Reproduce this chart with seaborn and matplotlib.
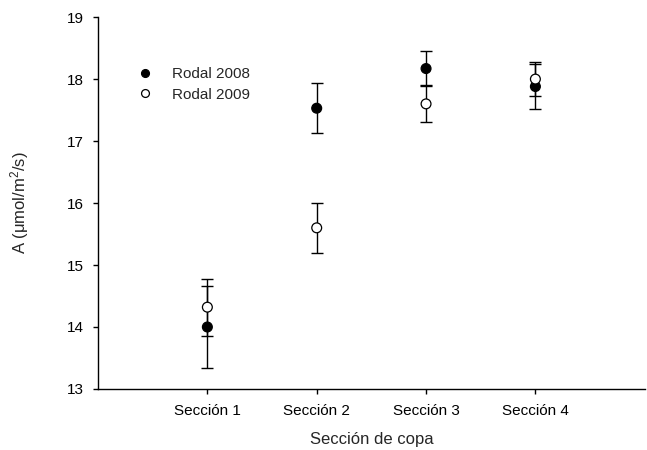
import pandas as pd
import matplotlib.pyplot as plt
import seaborn as sns

# Values
secciones = ["Sección 1", "Sección 2", "Sección 3", "Sección 4"]
a_2008 = [14.00, 17.53, 18.17, 17.88]
err_2008 = [0.66, 0.40, 0.28, 0.36]
a_2009 = [14.32, 15.60, 17.60, 18.00]
err_2009 = [0.46, 0.40, 0.30, 0.27]

df = pd.DataFrame({
    "seccion": secciones * 2,
    "A": a_2008 + a_2009,
    "err": err_2008 + err_2009,
    "rodal": ["Rodal 2008"] * 4 + ["Rodal 2009"] * 4,
})

sns.set_style("ticks")
plt.rcParams["font.family"] = ["Liberation Sans", "DejaVu Sans"]
plt.rcParams["mathtext.fontset"] = "custom"
plt.rcParams["mathtext.rm"] = "Liberation Sans"
plt.rcParams["mathtext.default"] = "regular"

fig = plt.figure(figsize=(6.47, 4.5), dpi=100)
ax = fig.add_axes([0.1515, 0.1356, 0.845, 0.8264])

pos = {s: i for i, s in enumerate(secciones)}
for rodal, grp in df.groupby("rodal"):
    ax.errorbar(grp["seccion"].map(pos), grp["A"], yerr=grp["err"], fmt="none",
                ecolor="black", elinewidth=1, capsize=4.5, capthick=1, zorder=2)

sns.scatterplot(data=df, x=df["seccion"].map(pos), y="A", hue="rodal", style="rodal",
                palette={"Rodal 2008": "black", "Rodal 2009": "white"},
                markers={"Rodal 2008": "o", "Rodal 2009": "o"},
                edgecolor="black", linewidth=0.9, s=50, ax=ax, zorder=3)

ax.set_xlim(-1, 4)
ax.set_ylim(13, 19)
ax.set_xticks(range(len(secciones)))
ax.set_xticklabels(secciones)
ax.set_yticks(range(13, 20))
ax.tick_params(labelsize=11, direction="out", length=3.5, width=1, colors="black")
ax.tick_params(axis="x", pad=7.5)
ax.tick_params(axis="y", pad=6.5)
sns.despine(ax=ax)
for sp in ["left", "bottom"]:
    ax.spines[sp].set_linewidth(1)
    ax.spines[sp].set_color("black")

ax.set_xlabel("Sección de copa", fontsize=12, labelpad=10)
ax.set_ylabel("A (μmol/m$^{2}$/s)", fontsize=12, labelpad=26)

leg = ax.legend(loc="upper left", bbox_to_anchor=(0.065, 0.866), frameon=False,
                fontsize=11, handlelength=1.5, handletextpad=1.0, labelspacing=0.45,
                markerscale=0.8, borderpad=0, borderaxespad=0, title=None)
for h in leg.legend_handles:
    h.set_markeredgecolor("black")

plt.savefig("out.png", dpi=100)
